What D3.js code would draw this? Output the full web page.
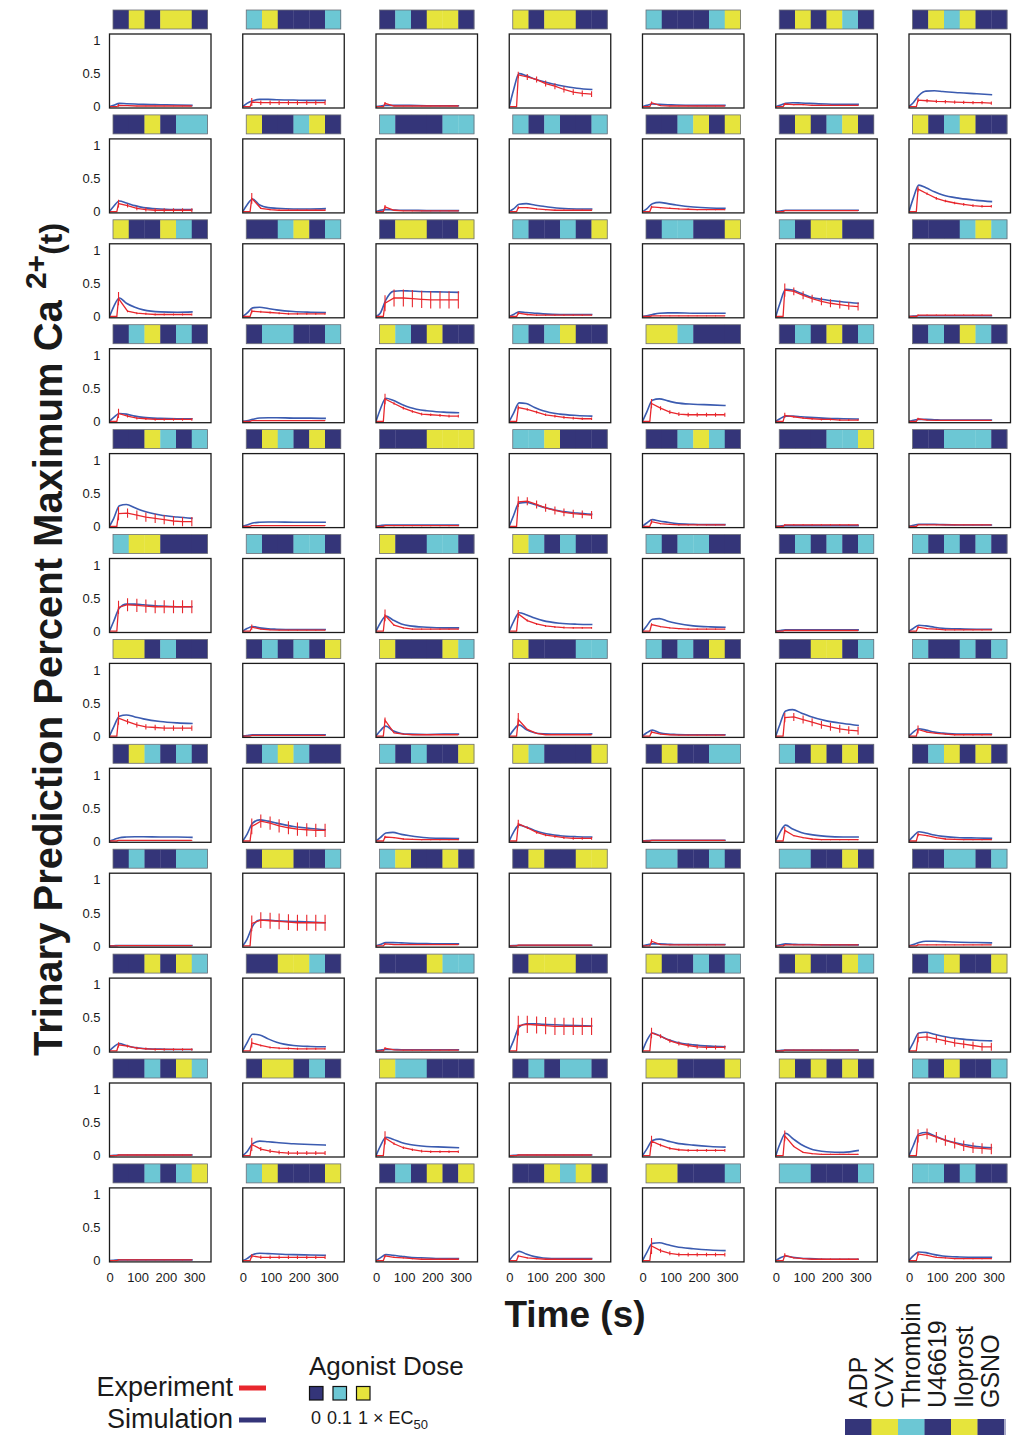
<!DOCTYPE html>
<html>
<head>
<meta charset="utf-8">
<script src="https://cdn.jsdelivr.net/npm/d3@7"></script>
<style>
  body { margin: 0; background: #fff; }
  svg { display: block; font-family: "Liberation Sans", Arial, Helvetica, sans-serif; }
</style>
</head>
<body>
<svg class="chart"></svg>
<script>
// dose level of each agonist per panel (0 = none, 1 = 0.1 x EC50, 2 = 1 x EC50)
// order inside a panel: ADP, CVX, Thrombin, U46619, Iloprost, GSNO
var doses = [
  [0,2,0,2,2,0],[1,2,0,0,0,1],[0,1,0,2,2,0],[2,0,2,2,0,0],[1,0,0,0,1,2],[0,2,0,2,1,0],[0,2,1,2,0,0],
  [0,0,2,0,1,1],[2,0,0,1,2,0],[1,0,0,0,1,1],[1,0,1,0,0,1],[0,0,1,2,0,2],[0,2,0,1,2,0],[2,0,1,2,0,0],
  [2,0,0,2,1,0],[0,0,1,2,0,1],[0,2,2,0,0,2],[1,0,0,1,0,2],[0,1,1,0,0,2],[1,0,2,2,0,0],[0,0,0,1,2,1],
  [0,1,2,0,1,0],[0,1,1,0,0,1],[2,1,0,2,0,0],[1,0,1,2,0,0],[2,2,1,0,0,0],[0,1,0,2,0,1],[0,1,0,2,1,0],
  [0,0,2,1,0,1],[0,2,1,0,2,0],[0,0,0,2,2,2],[1,1,2,0,0,0],[0,0,1,2,1,0],[0,0,0,1,1,2],[0,0,1,1,1,0],
  [1,2,2,0,0,0],[1,0,0,1,1,0],[2,0,0,1,1,0],[2,1,0,1,0,0],[1,0,1,1,0,0],[0,1,0,1,0,1],[1,0,1,0,1,0],
  [2,2,0,1,0,0],[0,1,0,1,0,2],[2,0,0,0,2,1],[2,0,0,0,1,1],[1,0,1,0,2,0],[0,0,2,2,0,1],[1,0,0,1,0,1],
  [0,2,1,0,1,0],[0,1,2,1,0,0],[1,0,1,0,0,2],[2,1,0,0,0,2],[0,2,0,0,1,1],[1,0,2,0,2,0],[0,1,2,0,2,0],
  [0,1,0,0,1,1],[0,2,2,0,0,1],[1,2,0,0,2,0],[0,2,0,0,2,2],[1,1,0,0,1,0],[1,1,0,0,2,0],[0,0,1,1,0,1],
  [0,0,2,0,2,1],[0,0,2,2,1,0],[0,0,0,2,1,1],[0,2,2,2,0,0],[2,0,0,1,0,1],[0,2,0,0,2,1],[0,1,2,0,0,2],
  [0,0,1,0,2,1],[0,2,2,0,1,0],[2,1,1,0,0,0],[0,1,0,1,1,0],[2,2,0,0,0,2],[2,0,2,0,2,0],[1,0,2,0,0,1],
  [0,0,1,0,1,2],[1,2,0,0,0,2],[0,1,0,2,0,2],[0,0,2,1,2,0],[2,2,0,0,0,1],[1,1,0,0,0,1],[1,1,0,1,0,0]
];

// simulation samples (s) and values per panel
var simT = [0, 15, 35, 60, 90, 120, 180, 240, 295];
var simVals = [
  [0,0.02,0.05,0.045,0.04,0.035,0.03,0.025,0.02],
  [0,0.05,0.09,0.11,0.11,0.105,0.1,0.095,0.095],
  [0,0.01,0.02,0.02,0.02,0.02,0.015,0.015,0.015],
  [0,0.25,0.5,0.47,0.42,0.38,0.32,0.28,0.26],
  [0,0.02,0.04,0.035,0.03,0.025,0.02,0.02,0.02],
  [0,0.02,0.05,0.06,0.055,0.05,0.04,0.035,0.035],
  [0,0.06,0.17,0.235,0.24,0.23,0.21,0.195,0.18],

  [0,0.08,0.16,0.13,0.09,0.06,0.04,0.03,0.03],
  [0,0.1,0.19,0.1,0.06,0.05,0.04,0.04,0.045],
  [0,0.02,0.03,0.025,0.02,0.02,0.015,0.015,0.015],
  [0,0.04,0.11,0.12,0.1,0.08,0.05,0.04,0.04],
  [0,0.04,0.12,0.14,0.12,0.1,0.07,0.055,0.05],
  [0,0.01,0.02,0.02,0.02,0.02,0.02,0.02,0.02],
  [0,0.2,0.4,0.36,0.3,0.25,0.2,0.17,0.15],

  [0,0.15,0.28,0.2,0.14,0.1,0.07,0.065,0.07],
  [0,0.05,0.13,0.14,0.12,0.1,0.075,0.065,0.06],
  [0,0.05,0.25,0.38,0.39,0.385,0.375,0.37,0.365],
  [0,0.03,0.07,0.06,0.05,0.04,0.03,0.03,0.03],
  [0,0.01,0.03,0.05,0.055,0.055,0.05,0.05,0.05],
  [0,0.2,0.41,0.4,0.35,0.3,0.25,0.22,0.2],
  [0,0.005,0.01,0.01,0.01,0.01,0.01,0.01,0.01],

  [0,0.06,0.12,0.11,0.08,0.06,0.045,0.04,0.04],
  [0,0.01,0.03,0.05,0.055,0.055,0.05,0.05,0.045],
  [0,0.18,0.35,0.32,0.26,0.21,0.16,0.14,0.13],
  [0,0.12,0.28,0.27,0.21,0.16,0.11,0.09,0.08],
  [0,0.14,0.32,0.34,0.31,0.28,0.26,0.25,0.24],
  [0,0.04,0.08,0.08,0.07,0.06,0.045,0.04,0.035],
  [0,0.015,0.03,0.03,0.025,0.02,0.02,0.02,0.02],

  [0,0.12,0.31,0.33,0.28,0.23,0.17,0.14,0.12],
  [0,0.02,0.05,0.06,0.065,0.065,0.06,0.06,0.06],
  [0,0.01,0.02,0.02,0.02,0.02,0.02,0.02,0.02],
  [0,0.16,0.35,0.36,0.33,0.29,0.23,0.2,0.18],
  [0,0.05,0.1,0.08,0.06,0.04,0.03,0.025,0.025],
  [0,0.005,0.01,0.01,0.01,0.01,0.01,0.01,0.01],
  [0,0.015,0.03,0.03,0.03,0.025,0.02,0.02,0.02],

  [0,0.15,0.35,0.41,0.41,0.4,0.38,0.37,0.37],
  [0,0.04,0.07,0.05,0.035,0.03,0.025,0.025,0.025],
  [0,0.12,0.23,0.17,0.11,0.08,0.06,0.05,0.05],
  [0,0.14,0.28,0.25,0.2,0.16,0.12,0.105,0.1],
  [0,0.08,0.18,0.19,0.15,0.12,0.08,0.065,0.06],
  [0,0.01,0.02,0.02,0.02,0.02,0.02,0.02,0.02],
  [0,0.04,0.09,0.08,0.06,0.045,0.035,0.03,0.03],

  [0,0.14,0.3,0.32,0.29,0.26,0.22,0.2,0.19],
  [0,0.01,0.02,0.02,0.02,0.02,0.02,0.02,0.02],
  [0,0.08,0.15,0.08,0.04,0.03,0.025,0.03,0.03],
  [0,0.09,0.17,0.1,0.05,0.035,0.03,0.03,0.035],
  [0,0.05,0.09,0.05,0.03,0.025,0.02,0.02,0.02],
  [0,0.18,0.38,0.4,0.35,0.3,0.23,0.19,0.16],
  [0,0.06,0.11,0.09,0.06,0.045,0.03,0.03,0.03],

  [0,0.02,0.05,0.06,0.065,0.065,0.06,0.06,0.055],
  [0,0.1,0.27,0.32,0.3,0.27,0.22,0.19,0.17],
  [0,0.05,0.12,0.13,0.1,0.08,0.05,0.04,0.035],
  [0,0.13,0.24,0.21,0.16,0.12,0.08,0.065,0.06],
  [0,0.005,0.01,0.01,0.01,0.01,0.01,0.01,0.01],
  [0,0.13,0.24,0.18,0.13,0.1,0.07,0.06,0.06],
  [0,0.07,0.14,0.12,0.09,0.07,0.05,0.045,0.04],

  [0,0.002,0.005,0.005,0.005,0.005,0.005,0.005,0.005],
  [0,0.1,0.3,0.39,0.39,0.38,0.37,0.36,0.35],
  [0,0.02,0.05,0.05,0.045,0.04,0.035,0.03,0.03],
  [0,0.005,0.01,0.01,0.01,0.01,0.01,0.01,0.01],
  [0,0.015,0.03,0.03,0.025,0.02,0.02,0.02,0.02],
  [0,0.015,0.03,0.025,0.02,0.02,0.015,0.015,0.015],
  [0,0.02,0.05,0.07,0.07,0.065,0.055,0.05,0.045],

  [0,0.06,0.11,0.08,0.05,0.035,0.025,0.02,0.02],
  [0,0.12,0.25,0.24,0.18,0.13,0.08,0.065,0.06],
  [0,0.01,0.02,0.02,0.015,0.015,0.015,0.015,0.015],
  [0,0.15,0.36,0.41,0.41,0.4,0.39,0.38,0.375],
  [0,0.15,0.27,0.23,0.17,0.13,0.09,0.07,0.06],
  [0,0.005,0.01,0.01,0.01,0.01,0.01,0.01,0.01],
  [0,0.12,0.27,0.28,0.25,0.22,0.18,0.16,0.15],

  [0,0.005,0.01,0.01,0.01,0.01,0.01,0.01,0.01],
  [0,0.06,0.18,0.22,0.21,0.2,0.18,0.17,0.16],
  [0,0.14,0.28,0.25,0.2,0.17,0.14,0.13,0.12],
  [0,0.005,0.01,0.01,0.01,0.01,0.01,0.01,0.01],
  [0,0.1,0.23,0.25,0.22,0.19,0.16,0.14,0.13],
  [0,0.18,0.34,0.26,0.17,0.11,0.06,0.05,0.08],
  [0,0.15,0.33,0.35,0.3,0.25,0.18,0.14,0.12],

  [0,0.005,0.01,0.01,0.01,0.01,0.01,0.01,0.01],
  [0,0.03,0.09,0.11,0.105,0.1,0.09,0.085,0.08],
  [0,0.04,0.09,0.08,0.065,0.05,0.04,0.03,0.03],
  [0,0.08,0.14,0.1,0.06,0.04,0.03,0.03,0.03],
  [0,0.12,0.26,0.27,0.24,0.21,0.18,0.16,0.15],
  [0,0.04,0.07,0.05,0.035,0.03,0.02,0.02,0.02],
  [0,0.07,0.13,0.12,0.09,0.07,0.055,0.05,0.05]
];

// experiment sample times (s), means and error (first point, other points)
var expT = [32, 64, 97, 129, 162, 194, 227, 259, 292];
var expStart = [[0, 0], [26, 0]];
var expVals = [
  [0.02,0.015,0.01,0.01,0.01,0.01,0.01,0.01,0.01],
  [0.07,0.06,0.06,0.06,0.06,0.06,0.06,0.06,0.06],
  [0.05,0.01,0.01,0.01,0.01,0.01,0.01,0.01,0.01],
  [0.48,0.45,0.41,0.35,0.31,0.26,0.22,0.2,0.19],
  [0.06,0.015,0.01,0.01,0.01,0.01,0.01,0.01,0.01],
  [0.04,0.03,0.03,0.02,0.02,0.02,0.02,0.02,0.02],
  [0.1,0.09,0.08,0.075,0.07,0.065,0.06,0.06,0.055],

  [0.12,0.09,0.05,0.03,0.02,0.02,0.02,0.02,0.02],
  [0.2,0.05,0.03,0.02,0.02,0.02,0.02,0.02,0.02],
  [0.07,0.02,0.01,0.01,0.01,0.01,0.01,0.01,0.01],
  [0.06,0.06,0.04,0.03,0.02,0.02,0.02,0.02,0.02],
  [0.07,0.06,0.05,0.04,0.035,0.03,0.03,0.03,0.03],
  [0.015,0.015,0.015,0.015,0.015,0.015,0.015,0.015,0.015],
  [0.34,0.27,0.2,0.16,0.13,0.11,0.09,0.08,0.08],

  [0.27,0.08,0.05,0.04,0.03,0.03,0.03,0.03,0.03],
  [0.08,0.07,0.06,0.05,0.04,0.04,0.04,0.04,0.04],
  [0.2,0.28,0.28,0.27,0.26,0.25,0.25,0.25,0.25],
  [0.05,0.03,0.02,0.02,0.02,0.02,0.02,0.02,0.02],
  [0.01,0.01,0.01,0.01,0.01,0.01,0.01,0.01,0.01],
  [0.4,0.38,0.32,0.27,0.23,0.2,0.18,0.16,0.15],
  [0.02,0.02,0.02,0.02,0.02,0.02,0.02,0.02,0.02],

  [0.12,0.08,0.05,0.04,0.03,0.03,0.03,0.03,0.03],
  [0.01,0.01,0.01,0.01,0.01,0.01,0.01,0.01,0.01],
  [0.34,0.27,0.2,0.15,0.11,0.1,0.09,0.08,0.08],
  [0.21,0.18,0.14,0.1,0.08,0.06,0.05,0.04,0.04],
  [0.27,0.2,0.14,0.11,0.1,0.1,0.1,0.1,0.1],
  [0.09,0.07,0.05,0.04,0.03,0.03,0.02,0.02,0.02],
  [0.04,0.02,0.015,0.015,0.015,0.015,0.015,0.015,0.015],

  [0.19,0.2,0.17,0.14,0.12,0.1,0.08,0.07,0.07],
  [0.01,0.01,0.01,0.01,0.01,0.01,0.01,0.01,0.01],
  [0.01,0.01,0.01,0.01,0.01,0.01,0.01,0.01,0.01],
  [0.37,0.38,0.33,0.28,0.24,0.21,0.19,0.18,0.17],
  [0.07,0.04,0.03,0.02,0.02,0.02,0.02,0.02,0.02],
  [0.02,0.02,0.02,0.02,0.02,0.02,0.02,0.02,0.02],
  [0.02,0.02,0.02,0.02,0.02,0.02,0.02,0.02,0.02],

  [0.36,0.4,0.39,0.38,0.37,0.37,0.37,0.37,0.37],
  [0.06,0.03,0.02,0.015,0.015,0.015,0.015,0.015,0.015],
  [0.24,0.09,0.05,0.03,0.03,0.03,0.03,0.03,0.03],
  [0.26,0.16,0.11,0.08,0.065,0.055,0.05,0.05,0.05],
  [0.1,0.07,0.05,0.04,0.03,0.03,0.03,0.03,0.03],
  [0.01,0.01,0.01,0.01,0.01,0.01,0.01,0.01,0.01],
  [0.06,0.04,0.03,0.02,0.02,0.02,0.02,0.02,0.02],

  [0.27,0.22,0.17,0.14,0.13,0.12,0.12,0.12,0.12],
  [0.01,0.01,0.01,0.01,0.01,0.01,0.01,0.01,0.01],
  [0.24,0.05,0.03,0.02,0.02,0.02,0.02,0.02,0.02],
  [0.25,0.1,0.04,0.02,0.02,0.02,0.02,0.02,0.02],
  [0.06,0.03,0.02,0.015,0.015,0.015,0.015,0.015,0.015],
  [0.28,0.29,0.25,0.21,0.17,0.14,0.11,0.09,0.08],
  [0.1,0.06,0.04,0.03,0.02,0.02,0.02,0.02,0.02],

  [0.01,0.01,0.01,0.01,0.01,0.01,0.01,0.01,0.01],
  [0.22,0.3,0.27,0.23,0.2,0.18,0.17,0.16,0.16],
  [0.06,0.05,0.03,0.025,0.02,0.02,0.02,0.02,0.02],
  [0.26,0.2,0.13,0.09,0.07,0.05,0.04,0.04,0.04],
  [0.01,0.01,0.01,0.01,0.01,0.01,0.01,0.01,0.01],
  [0.16,0.08,0.05,0.03,0.02,0.02,0.02,0.02,0.02],
  [0.1,0.08,0.05,0.03,0.025,0.02,0.02,0.02,0.02],

  [0.005,0.005,0.005,0.005,0.005,0.005,0.005,0.005,0.005],
  [0.34,0.39,0.38,0.37,0.36,0.35,0.35,0.35,0.35],
  [0.03,0.02,0.02,0.02,0.02,0.02,0.02,0.02,0.02],
  [0.01,0.01,0.01,0.01,0.01,0.01,0.01,0.01,0.01],
  [0.07,0.02,0.015,0.015,0.015,0.015,0.015,0.015,0.015],
  [0.015,0.015,0.015,0.015,0.015,0.015,0.015,0.015,0.015],
  [0.015,0.015,0.015,0.015,0.015,0.015,0.015,0.015,0.015],

  [0.09,0.07,0.04,0.03,0.02,0.02,0.02,0.02,0.02],
  [0.12,0.08,0.05,0.04,0.035,0.03,0.03,0.03,0.03],
  [0.04,0.015,0.01,0.01,0.01,0.01,0.01,0.01,0.01],
  [0.38,0.4,0.39,0.38,0.37,0.37,0.37,0.37,0.37],
  [0.27,0.22,0.15,0.11,0.08,0.06,0.05,0.05,0.05],
  [0.01,0.01,0.01,0.01,0.01,0.01,0.01,0.01,0.01],
  [0.2,0.21,0.18,0.15,0.12,0.1,0.08,0.06,0.06],

  [0.01,0.01,0.01,0.01,0.01,0.01,0.01,0.01,0.01],
  [0.17,0.1,0.07,0.05,0.04,0.04,0.04,0.04,0.04],
  [0.27,0.18,0.12,0.09,0.07,0.06,0.06,0.06,0.06],
  [0.01,0.01,0.01,0.01,0.01,0.01,0.01,0.01,0.01],
  [0.22,0.16,0.11,0.09,0.08,0.08,0.08,0.08,0.08],
  [0.3,0.14,0.05,0.03,0.02,0.02,0.02,0.02,0.02],
  [0.3,0.33,0.28,0.23,0.19,0.15,0.12,0.11,0.1],

  [0.01,0.01,0.01,0.01,0.01,0.01,0.01,0.01,0.01],
  [0.07,0.05,0.05,0.05,0.05,0.05,0.05,0.05,0.05],
  [0.07,0.05,0.04,0.03,0.02,0.02,0.02,0.02,0.02],
  [0.07,0.04,0.03,0.02,0.02,0.02,0.02,0.02,0.02],
  [0.22,0.15,0.11,0.09,0.09,0.09,0.09,0.09,0.09],
  [0.08,0.04,0.03,0.02,0.02,0.02,0.02,0.02,0.02],
  [0.1,0.08,0.05,0.04,0.03,0.03,0.03,0.03,0.03]
];
var expErr = [
  [0.02,0.005],[0.06,0.035],[0.02,0.005],[0.05,0.045],[0.02,0.005],[0.015,0.01],[0.03,0.025],
  [0.06,0.03],[0.08,0.01],[0.03,0.005],[0.02,0.01],[0.02,0.01],[0.005,0.005],[0.04,0.02],
  [0.1,0.015],[0.03,0.015],[0.12,0.13],[0.02,0.01],[0.005,0.005],[0.1,0.06],[0.01,0.01],
  [0.07,0.02],[0.005,0.005],[0.08,0.02],[0.03,0.02],[0.07,0.03],[0.04,0.015],[0.015,0.005],
  [0.1,0.07],[0.005,0.005],[0.01,0.01],[0.08,0.06],[0.03,0.01],[0.01,0.01],[0.005,0.005],
  [0.1,0.1],[0.04,0.005],[0.09,0.01],[0.06,0.015],[0.02,0.01],[0.005,0.005],[0.02,0.01],
  [0.1,0.04],[0.005,0.005],[0.04,0.005],[0.1,0.005],[0.02,0.005],[0.07,0.06],[0.06,0.01],
  [0.005,0.005],[0.12,0.1],[0.02,0.01],[0.06,0.02],[0.005,0.005],[0.05,0.01],[0.03,0.01],
  [0.003,0.003],[0.12,0.12],[0.01,0.005],[0.003,0.003],[0.03,0.005],[0.005,0.005],[0.005,0.005],
  [0.04,0.02],[0.07,0.015],[0.015,0.005],[0.15,0.13],[0.08,0.03],[0.005,0.005],[0.07,0.06],
  [0.005,0.005],[0.1,0.03],[0.1,0.02],[0.005,0.005],[0.08,0.02],[0.08,0.01],[0.1,0.08],
  [0.005,0.005],[0.03,0.025],[0.02,0.01],[0.02,0.01],[0.12,0.03],[0.03,0.01],[0.03,0.01]
];

var yTicks = [0, 0.5, 1];
var xTicks = [0, 100, 200, 300];
var agonists = ["ADP", "CVX", "Thrombin", "U46619", "Iloprost", "GSNO"];
var exampleDose = [0, 2, 1, 0, 2, 0];
var doseKeys = [0, 1, 2];
var doseKeyLabels = ["0", "0.1", "1"];

var Grid = (function(){

  var that = {},
    svg,
    nCols = 7,
    boxW = 101.5,
    boxH = 74,
    colors = ["#343579", "#6cc7d4", "#e6e43c"],
    simColor = "#3b5bb0",
    expColor = "#e8272d",
    xScale,
    yScale,
    barScale;

  function colLeft(c){ return 109.5 + c * 133.25; }
  function rowTop(r){ return 34 + r * 104.9; }

  function initialize(){
    svg = d3.select(".chart")
            .attr("width", 1021)
            .attr("height", 1435);
    svg.append("rect").attr("width", 1021).attr("height", 1435).attr("fill", "#fff");

    xScale = d3.scaleLinear().domain([0, 360]).range([0, boxW]);
    yScale = d3.scaleLinear().domain([-0.02, 1.1]).range([boxH, 0]);
    barScale = d3.scaleBand().domain(d3.range(6)).range([3.5, boxW - 3.5]);

    svg.append("defs").append("clipPath")
       .attr("id", "box-clip")
       .append("rect")
       .attr("width", boxW).attr("height", boxH);

    makePanels();
    makeTitles();
    makeLegend();
  }

  function makePanels(){
    var simLine = d3.line()
                    .x(function(d){ return xScale(d[0]); })
                    .y(function(d){ return yScale(d[1]); })
                    .curve(d3.curveMonotoneX);
    var expLine = d3.line()
                    .x(function(d){ return xScale(d[0]); })
                    .y(function(d){ return yScale(d[1]); });

    var panels = svg.selectAll(".panel")
                    .data(d3.range(doses.length))
                    .enter().append("g")
                    .attr("class", "panel")
                    .attr("transform", function(i){
                      return "translate(" + colLeft(i % nCols) + "," + rowTop(Math.floor(i / nCols)) + ")";
                    });

    //dose bar above each box
    panels.each(function(i){
      var p = d3.select(this);
      var bar = p.append("g").attr("transform", "translate(0,-24)");
      bar.selectAll("rect")
         .data(doses[i])
         .enter().append("rect")
         .attr("x", function(d, k){ return barScale(k); })
         .attr("width", barScale.bandwidth() + 0.3)
         .attr("height", 19)
         .attr("fill", function(d){ return colors[d]; });
      bar.append("rect")
         .attr("x", barScale(0))
         .attr("width", barScale.bandwidth() * 6)
         .attr("height", 19)
         .attr("fill", "none")
         .attr("stroke", "#6d6f78")
         .attr("stroke-width", 0.8);

      var plot = p.append("g").attr("clip-path", "url(#box-clip)");

      var sim = simT.map(function(t, k){ return [t, simVals[i][k]]; });
      plot.append("path")
          .attr("d", simLine(sim))
          .attr("fill", "none")
          .attr("stroke", simColor)
          .attr("stroke-width", 1.6);

      var exp = expT.map(function(t, k){ return [t, expVals[i][k], k === 0 ? expErr[i][0] : expErr[i][1]]; });
      plot.append("path")
          .attr("d", expLine(expStart.concat(exp)))
          .attr("fill", "none")
          .attr("stroke", expColor)
          .attr("stroke-width", 1.3);

      plot.selectAll(".err")
          .data(exp)
          .enter().append("line")
          .attr("class", "err")
          .attr("x1", function(d){ return xScale(d[0]); })
          .attr("x2", function(d){ return xScale(d[0]); })
          .attr("y1", function(d){ return yScale(d[1] - d[2]); })
          .attr("y2", function(d){ return yScale(d[1] + d[2]); })
          .attr("stroke", expColor)
          .attr("stroke-width", 1.1);

      p.append("rect")
       .attr("width", boxW)
       .attr("height", boxH)
       .attr("fill", "none")
       .attr("stroke", "#1c1c1c")
       .attr("stroke-width", 1.3);

      //y labels on first column, x labels on last row
      if(i % nCols === 0){
        var ya = p.append("g")
                  .call(d3.axisLeft(yScale).tickValues(yTicks).tickSize(0).tickPadding(9)
                          .tickFormat(function(d){ return String(d); }));
        styleAxis(ya);
      }
      if(i >= doses.length - nCols){
        var xa = p.append("g")
                  .attr("transform", "translate(0," + boxH + ")")
                  .call(d3.axisBottom(xScale).tickValues(xTicks).tickSize(0).tickPadding(11));
        styleAxis(xa);
      }
    });
  }

  function styleAxis(a){
    a.select(".domain").remove();
    a.attr("font-family", null).attr("font-size", 13);
    a.selectAll("text").attr("fill", "#1a1a1a");
  }

  function makeTitles(){
    var yt = svg.append("text")
                .attr("transform", "translate(62,1056) rotate(-90)")
                .attr("font-weight", "bold")
                .attr("font-size", 40)
                .attr("fill", "#1a1a1a");
    yt.append("tspan").text("Trinary Prediction Percent Maximum Ca ");
    yt.append("tspan").attr("font-size", 30).attr("dy", -16).text("2+");
    yt.append("tspan").attr("font-size", 32).attr("dy", 16).text("(t)");

    svg.append("text")
       .attr("x", 575)
       .attr("y", 1327)
       .attr("text-anchor", "middle")
       .attr("font-weight", "bold")
       .attr("font-size", 37)
       .attr("fill", "#1a1a1a")
       .text("Time (s)");
  }

  function makeLegend(){
    var lg = svg.append("g").attr("fill", "#1a1a1a");

    lg.append("text").attr("x", 233).attr("y", 1396).attr("text-anchor", "end")
      .attr("font-size", 27).text("Experiment");
    lg.append("text").attr("x", 233).attr("y", 1428).attr("text-anchor", "end")
      .attr("font-size", 27).text("Simulation");
    lg.append("line").attr("x1", 239).attr("x2", 266).attr("y1", 1388).attr("y2", 1388)
      .attr("stroke", expColor).attr("stroke-width", 5);
    lg.append("line").attr("x1", 239).attr("x2", 266).attr("y1", 1420).attr("y2", 1420)
      .attr("stroke", colors[0]).attr("stroke-width", 5);

    lg.append("text").attr("x", 309).attr("y", 1375)
      .attr("font-size", 26).text("Agonist Dose");
    lg.selectAll(".key")
      .data(doseKeys)
      .enter().append("rect")
      .attr("class", "key")
      .attr("x", function(d){ return 309.5 + d * 23.5; })
      .attr("y", 1386.5)
      .attr("width", 13.5)
      .attr("height", 13.5)
      .attr("fill", function(d){ return colors[d]; })
      .attr("stroke", "#111")
      .attr("stroke-width", 1.2);
    lg.selectAll(".keylab")
      .data(doseKeys)
      .enter().append("text")
      .attr("class", "keylab")
      .attr("x", function(d){ return 316 + d * 23.5; })
      .attr("y", 1424)
      .attr("text-anchor", "middle")
      .attr("font-size", 18)
      .text(function(d){ return doseKeyLabels[d]; });
    var kt = lg.append("text").attr("x", 373).attr("y", 1424).attr("font-size", 18);
    kt.append("tspan").text("\u00d7 EC");
    kt.append("tspan").attr("font-size", 13).attr("dy", 5).text("50");

    //agonist order key at bottom right
    var kx = d3.scaleBand().domain(d3.range(6)).range([845, 1004]);
    lg.selectAll(".agonist")
      .data(agonists)
      .enter().append("text")
      .attr("class", "agonist")
      .attr("transform", function(d, k){
        return "translate(" + (kx(k) + kx.bandwidth() / 2 + 8.5) + ",1408) rotate(-90)";
      })
      .attr("font-size", 25)
      .text(function(d){ return d; });
    lg.selectAll(".ex")
      .data(exampleDose)
      .enter().append("rect")
      .attr("class", "ex")
      .attr("x", function(d, k){ return kx(k); })
      .attr("y", 1419)
      .attr("width", kx.bandwidth() + 0.3)
      .attr("height", 16)
      .attr("fill", function(d){ return colors[d]; });
    lg.append("rect").attr("x", 1004).attr("y", 1419).attr("width", 2).attr("height", 16)
      .attr("fill", "#a9abc8");
  }

  that.init = initialize;
  return that;

})();

Grid.init();
</script>
</body>
</html>
